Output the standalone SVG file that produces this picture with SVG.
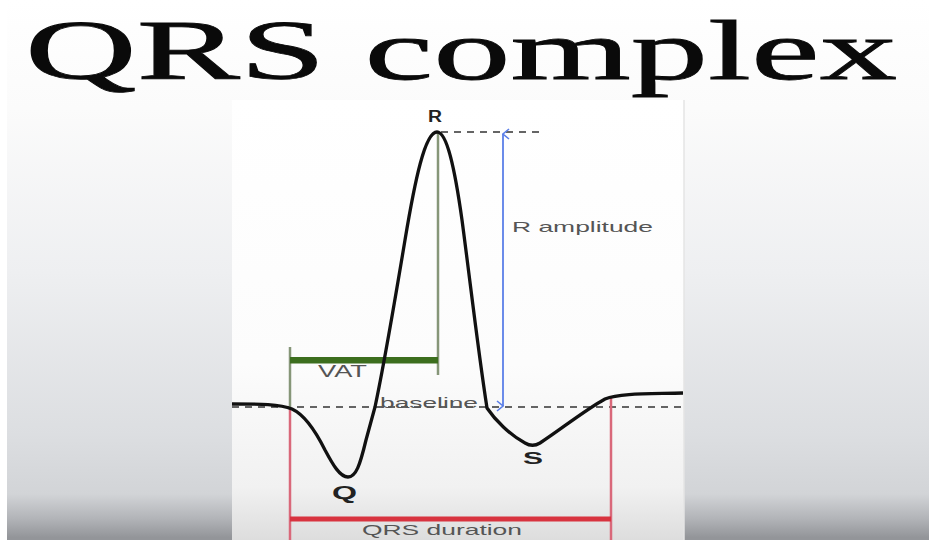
<svg xmlns="http://www.w3.org/2000/svg" width="929" height="543" viewBox="0 0 929 543">
  <defs>
    <linearGradient id="bg" x1="0" y1="0" x2="0" y2="1">
      <stop offset="0" stop-color="#ffffff"/>
      <stop offset="0.2" stop-color="#fbfbfb"/>
      <stop offset="0.5" stop-color="#eeeff1"/>
      <stop offset="0.8" stop-color="#dcdee1"/>
      <stop offset="0.91" stop-color="#d2d4d7"/>
      <stop offset="0.955" stop-color="#b2b4b8"/>
      <stop offset="0.99" stop-color="#939599"/>
    </linearGradient>
    <linearGradient id="panel" x1="0" y1="0" x2="0" y2="1">
      <stop offset="0" stop-color="#ffffff"/>
      <stop offset="0.6" stop-color="#fcfcfc"/>
      <stop offset="0.88" stop-color="#f1f1f1"/>
      <stop offset="1" stop-color="#dddddd"/>
    </linearGradient>
    <marker id="chev" viewBox="0 0 12 10" refX="6" refY="1" markerWidth="12" markerHeight="10" markerUnits="userSpaceOnUse" orient="auto-start-reverse">
      <polyline points="1,7 6,1 11,7" fill="none" stroke="#5b7fe8" stroke-width="1.6"/>
    </marker>
    <style>
      .lbl { font-family: "Liberation Sans", Arial, sans-serif; fill: #555; }
      .pt { font-family: "Liberation Sans", Arial, sans-serif; font-weight: bold; fill: #222; }
      .dash { fill: none; stroke: #333; stroke-width: 1.5; stroke-dasharray: 7 6; }
      .red { stroke: #d9687a; stroke-width: 2.5; fill: none; }
      .olive { stroke: #869678; stroke-width: 2.5; fill: none; }
    </style>
  </defs>

  <g id="background">
    <rect x="0" y="0" width="929" height="543" fill="url(#bg)"/>
    <rect x="0" y="0" width="7" height="543" fill="#ffffff"/>
    <rect x="0" y="540" width="929" height="3" fill="#ffffff"/>
    <rect x="232" y="100" width="452" height="440" fill="url(#panel)"/>
    <line x1="684" y1="100" x2="684" y2="540" stroke="#e4e4e4" stroke-width="1.5"/>
  </g>

  <g id="title">
    <text x="25" y="79" font-family="Liberation Serif, Times New Roman, serif" font-size="84" fill="#0a0a0a" stroke="#0a0a0a" stroke-width="0.8" textLength="872" lengthAdjust="spacingAndGlyphs">QRS complex</text>
  </g>

  <g id="connectors">
    <line class="dash" x1="232" y1="407" x2="683" y2="407"/>
    <line class="dash" x1="441" y1="132" x2="540" y2="132"/>
    <line x1="503" y1="134" x2="503" y2="406" stroke="#5b7fe8" stroke-width="1.8" marker-start="url(#chev)" marker-end="url(#chev)"/>
  </g>

  <g id="qrs-duration">
    <line class="red" x1="290" y1="407" x2="290" y2="540"/>
    <line class="red" x1="611" y1="397" x2="611" y2="540"/>
    <rect x="290" y="516.5" width="321" height="5" fill="#d8333f"/>
    <text class="lbl" x="362" y="535" font-size="15" textLength="160" lengthAdjust="spacingAndGlyphs">QRS duration</text>
  </g>

  <g id="vat">
    <line class="olive" x1="290" y1="347" x2="290" y2="407"/>
    <line class="olive" x1="438" y1="133" x2="438" y2="375"/>
    <rect x="290" y="357" width="148" height="6.5" fill="#3c6e1e"/>
    <text class="lbl" x="318" y="377" font-size="16" fill="#666" textLength="49" lengthAdjust="spacingAndGlyphs">VAT</text>
  </g>

  <g id="waveform">
    <path d="M232,404 C260,404 280,404 292,409 C305,415 315,430 325,450 C333,465 340,477 348,477 C356,477 360,465 366,440 L375,407 C385,360 395,300 405,240 C415,180 425,132 437,132 C447,132 455,170 462,220 C470,280 478,350 487,408 C495,420 510,435 525,443 C530,446 535,446 540,443 C560,430 585,410 605,399 C620,393 650,394 683,393" fill="none" stroke="#111" stroke-width="3.3" stroke-linejoin="round"/>
  </g>

  <g id="label-baseline">
    <text class="lbl" x="380" y="408" font-size="14" textLength="98" lengthAdjust="spacingAndGlyphs">baseline</text>
  </g>

  <g id="label-r">
    <text class="pt" x="428" y="122" font-size="16" textLength="14" lengthAdjust="spacingAndGlyphs">R</text>
  </g>
  <g id="label-q">
    <text class="pt" x="332" y="499" font-size="18" textLength="25" lengthAdjust="spacingAndGlyphs">Q</text>
  </g>
  <g id="label-s">
    <text class="pt" x="523" y="464" font-size="17" textLength="20" lengthAdjust="spacingAndGlyphs">S</text>
  </g>
  <g id="label-r-amplitude">
    <text class="lbl" x="512" y="232" font-size="15" textLength="141" lengthAdjust="spacingAndGlyphs">R amplitude</text>
  </g>
</svg>
